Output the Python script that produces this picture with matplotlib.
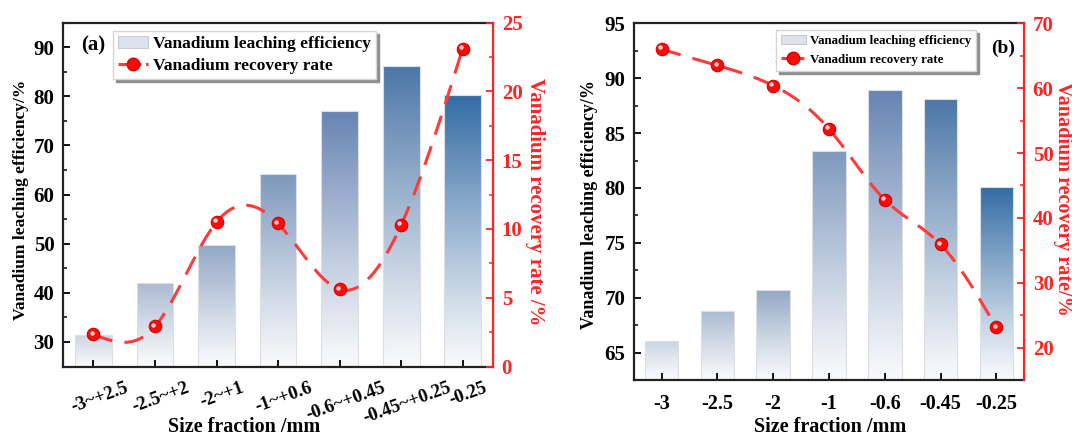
import numpy as np
import matplotlib
matplotlib.use('Agg')
import matplotlib.pyplot as plt
from matplotlib.patches import Patch
from matplotlib.lines import Line2D
from matplotlib.transforms import ScaledTranslation, offset_copy

# ---- data ----
sizes_a = ['-3~+2.5', '-2.5~+2', '-2~+1', '-1~+0.6', '-0.6~+0.45', '-0.45~+0.25', '-0.25']
leach_a = [31.4, 42.0, 49.7, 64.1, 77.1, 86.1, 80.2]
recov_a = [2.33, 2.91, 10.5, 10.4, 5.61, 10.27, 23.1]

sizes_b = ['-3', '-2.5', '-2', '-1', '-0.6', '-0.45', '-0.25']
leach_b = [66.1, 68.8, 70.7, 83.4, 88.9, 88.1, 80.1]
recov_b = [66.0, 63.5, 60.4, 53.7, 42.8, 35.9, 23.1]

top_colors = ['#cbd4e1', '#aabad1', '#92a7c5', '#7d98bc', '#6683b2', '#4b76a7', '#336ba4']
RED = '#ff2424'
LINE_RED = '#ff3a3a'

plt.rcParams['font.family'] = ['Liberation Serif', 'DejaVu Serif']
plt.rcParams['font.weight'] = 'bold'
plt.rcParams['axes.labelweight'] = 'bold'


def spline(x, y, n=300):
    # natural cubic spline for the smooth connecting line
    x = np.asarray(x, float); y = np.asarray(y, float)
    m = len(x); h = np.diff(x)
    A = np.zeros((m, m)); r = np.zeros(m)
    A[0, 0] = A[-1, -1] = 1
    for i in range(1, m - 1):
        A[i, i - 1] = h[i - 1]; A[i, i] = 2 * (h[i - 1] + h[i]); A[i, i + 1] = h[i]
        r[i] = 3 * ((y[i + 1] - y[i]) / h[i] - (y[i] - y[i - 1]) / h[i - 1])
    c = np.linalg.solve(A, r)
    xs = np.linspace(x[0], x[-1], n)
    k = np.clip(np.searchsorted(x, xs) - 1, 0, m - 2)
    b = (y[k + 1] - y[k]) / h[k] - h[k] * (2 * c[k] + c[k + 1]) / 3
    d = (c[k + 1] - c[k]) / (3 * h[k])
    t = xs - x[k]
    return xs, y[k] + b * t + c[k] * t ** 2 + d * t ** 3


def gradient_bars(ax, vals, ylo, width=0.6, n=90):
    bot = np.array([0.976, 0.979, 0.985])
    for i, v in enumerate(vals):
        top = np.array(matplotlib.colors.to_rgb(top_colors[i]))
        edges = np.linspace(ylo, v, n + 1)
        t = (np.arange(n) + 0.5) / n
        cols = [tuple(bot + (top - bot) * tt ** 1.1) for tt in t]
        ax.bar([i] * n, np.diff(edges), width, bottom=edges[:-1], color=cols,
               linewidth=0, antialiased=False, zorder=1.5)
    ax.bar(np.arange(len(vals)), vals, width, color='none', edgecolor='#dcdee2',
           linewidth=0.8, zorder=2)


def panel(rect, sizes, leach, recov, ylim1, yt1, ylim2, yt2, rot, fs_leg, leg_xy,
          tag, tag_xy, ylab2, lab, leg_kw):
    ax = fig.add_axes(rect)
    gradient_bars(ax, leach, ylim1[0])
    ax.set_xlim(-0.5, 6.5)
    ax.set_ylim(*ylim1)
    ax.set_yticks(yt1)
    step = (yt1[1] - yt1[0]) / 2
    ax.set_yticks(np.arange(yt1[0] - step, ylim1[1] + 0.01, step), minor=True)
    ax.set_xticks(range(len(sizes)))
    ax.tick_params(axis='both', direction='in', length=5, width=1.3, labelsize=15, pad=6)
    ax.tick_params(axis='y', which='minor', direction='in', length=3, width=1.1)
    ax.tick_params(axis='y', right=False)
    for s in ['left', 'bottom', 'top']:
        ax.spines[s].set_linewidth(1.6)
        ax.spines[s].set_color('#222222')
    if rot:
        ax.tick_params(axis='x', pad=9, labelsize=13.5)
        ax.set_xticklabels(sizes, rotation=rot, ha='center')
        for lb in ax.get_xticklabels():
            lb.set_transform(lb.get_transform() + ScaledTranslation(6 / 100, 0, fig.dpi_scale_trans))
    else:
        ax.tick_params(axis='x', pad=10, labelsize=14.5)
        ax.set_xticklabels(sizes)
    ax.set_xlabel('Size fraction /mm', fontsize=14.5)
    ax.xaxis.set_label_coords(*lab['x'])
    ax.xaxis.label.set_va('center')
    ax.set_ylabel('Vanadium leaching efficiency/%', fontsize=lab['fs1'])
    ax.yaxis.set_label_coords(*lab['y1'])
    ax.yaxis.label.set_va('center')

    ax2 = ax.twinx()
    ax2.set_ylim(*ylim2)
    ax2.set_yticks(yt2)
    step2 = (yt2[1] - yt2[0]) / 2
    ax2.set_yticks(np.arange(yt2[0] + step2, ylim2[1], step2), minor=True)
    ax2.tick_params(axis='y', direction='in', length=5, width=1.3, colors=RED, labelsize=15, pad=6)
    ax2.tick_params(axis='y', which='minor', direction='in', length=3, width=1.1, colors=RED)
    ax2.spines['right'].set_color(RED)
    ax2.spines['right'].set_linewidth(1.6)
    ax2.spines['left'].set_visible(False)
    ax2.spines['top'].set_visible(False)
    ax2.spines['bottom'].set_visible(False)
    ax2.set_ylabel(ylab2, color=RED, fontsize=lab['fs2'], rotation=270)
    ax2.yaxis.set_label_coords(*lab['y2'])
    ax2.yaxis.label.set_va('center')

    x = np.arange(len(recov))
    xs, ys = spline(x, recov)
    ax2.plot(xs, ys, color=LINE_RED, lw=2.2, dashes=(6.5, 4), zorder=3)
    ax2.plot(x, recov, 'o', ms=9, mfc='#ff0a0a', mec='#d40000', mew=0.8, zorder=4)
    hl = offset_copy(ax2.transData, fig=fig, x=-1.3, y=1.3, units='points')
    ax2.plot(x, recov, 'o', ms=3.2, mfc='#ffd0d0', mec='none', transform=hl, zorder=5)

    ax.text(tag_xy[0], tag_xy[1], tag, transform=ax.transAxes, fontsize=lab['tag'],
            ha='center', va='center')

    h1 = Patch(facecolor='#dde3ec', edgecolor='#c8ccd2', linewidth=0.8)
    h2 = Line2D([], [], color=LINE_RED, lw=2.2, dashes=(3, 1.5), marker='o', ms=9,
                mfc='#ff0a0a', mec='#d40000')
    ax2.legend([h1, h2], ['Vanadium leaching efficiency', 'Vanadium recovery rate'],
               loc='upper left', bbox_to_anchor=leg_xy, bbox_transform=fig.transFigure,
               fontsize=fs_leg, frameon=True, fancybox=False, framealpha=1,
               edgecolor='#d5d5d5', shadow={'color': '#8e8e8e', 'alpha': 1},
               borderaxespad=0, handletextpad=0.3, **leg_kw)
    return ax, ax2


fig = plt.figure(figsize=(10.72, 4.36), dpi=100)

panel([0.0585, 0.1594, 0.4017, 0.7885], sizes_a, leach_a, recov_a,
      (25, 95), [30, 40, 50, 60, 70, 80, 90], (0, 25), [0, 5, 10, 15, 20, 25],
      20, 12.5, (0.1054, 0.9289), '(a)', (0.070, 0.935), 'Vanadium recovery rate /%',
      dict(x=(0.421, -0.175), y1=(-0.097, 0.484), y2=(1.097, 0.478), fs1=12.5, fs2=15, tag=15),
      dict(borderpad=0.3, labelspacing=0.3, handlelength=1.7))

panel([0.5911, 0.1284, 0.3644, 0.8181], sizes_b, leach_b, recov_b,
      (62.5, 95), [65, 70, 75, 80, 85, 90, 95], (15, 70), [20, 30, 40, 50, 60, 70],
      0, 9.3, (0.7239, 0.931), '(b)', (0.945, 0.931), 'Vanadium recovery rate/%',
      dict(x=(0.503, -0.132), y1=(-0.112, 0.493), y2=(1.099, 0.507), fs1=13, fs2=14.5, tag=14),
      dict(borderpad=0.4, labelspacing=0.5, handlelength=1.9))

fig.savefig('out.png', dpi=100)
